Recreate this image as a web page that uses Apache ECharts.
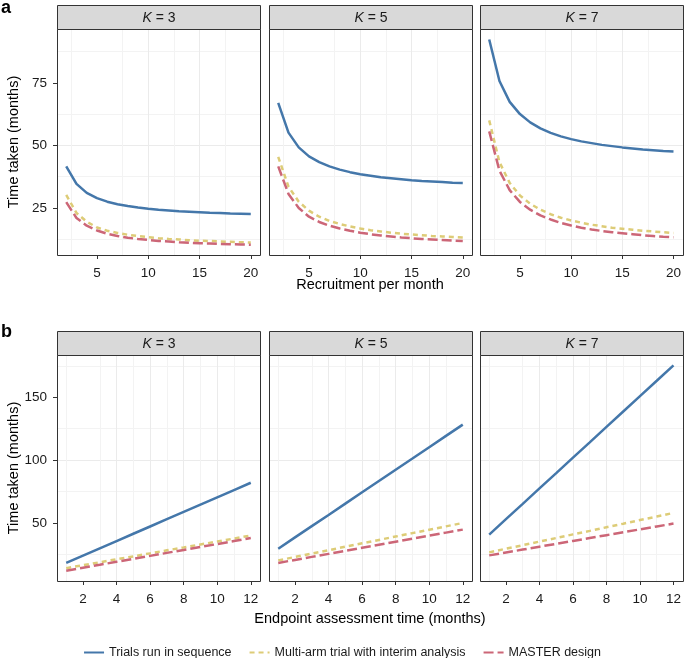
<!DOCTYPE html>
<html><head><meta charset="utf-8">
<script src="https://cdn.jsdelivr.net/npm/echarts@6/dist/echarts.min.js"></script>
<style>html,body{margin:0;padding:0;background:#fff}#c{width:684px;height:658px}</style>
</head><body><div id="c"></div><script>
// ---------- data ----------
const panelK = ['3', '5', '7'];
const seriesNames = ['Trials run in sequence', 'Multi-arm trial with interim analysis', 'MASTER design'];
const seriesColors = ['#4477AA', '#DDCC77', '#CC6677'];

// panel a: x = recruitment per month
const recruitPerMonth = [2,3,4,5,6,7,8,9,10,11,12,13,14,15,16,17,18,19,20];
const aSeqK3    = [41.6,34.6,31.0,28.9,27.5,26.5,25.8,25.2,24.7,24.3,24.0,23.7,23.5,23.3,23.1,23.0,22.8,22.7,22.6];
const aMultiK3  = [30.2,23.0,19.5,17.2,15.9,15.0,14.3,13.8,13.3,12.9,12.6,12.4,12.1,11.9,11.8,11.6,11.5,11.3,11.2];
const aMasterK3 = [27.3,21.0,17.9,16.0,14.7,13.8,13.1,12.6,12.2,11.8,11.6,11.3,11.1,10.9,10.8,10.6,10.5,10.4,10.3];
const aSeqK5    = [67.0,55.1,49.2,45.6,43.3,41.6,40.3,39.3,38.5,37.9,37.3,36.9,36.5,36.1,35.8,35.6,35.4,35.1,35.0];
const aMultiK5  = [45.4,33.5,27.5,23.9,21.5,19.8,18.6,17.6,16.8,16.1,15.6,15.1,14.7,14.4,14.1,13.8,13.6,13.4,13.2];
const aMasterK5 = [41.6,30.6,25.0,21.5,19.4,17.9,16.8,15.9,15.1,14.5,14.0,13.6,13.2,12.9,12.6,12.4,12.2,12.0,11.8];
const aSeqK7    = [92.3,75.7,67.4,62.5,59.2,56.8,55.0,53.6,52.5,51.6,50.9,50.2,49.7,49.2,48.8,48.4,48.1,47.8,47.6];
const aMultiK7  = [60.0,43.3,35.0,30.0,26.7,24.3,22.5,21.1,20.0,19.1,18.3,17.7,17.1,16.7,16.3,15.9,15.6,15.3,15.0];
const aMasterK7 = [55.6,39.9,32.1,27.4,24.3,22.0,20.4,19.0,18.0,17.1,16.4,15.8,15.3,14.9,14.5,14.1,13.8,13.5,13.3];

// panel b: x = endpoint assessment time (months)
const endpointMonths = [1,2,3,4,5,6,7,8,9,10,11,12];
const bSeqK3    = [18.2,24.0,29.8,35.6,41.4,47.2,53.0,58.8,64.6,70.4,76.2,82.0];
const bMultiK3  = [14.0,16.4,18.7,21.1,23.4,25.8,28.2,30.5,32.9,35.2,37.6,40.0];
const bMasterK3 = [12.0,14.4,16.7,19.1,21.4,23.8,26.2,28.5,30.9,33.2,35.6,38.0];
const bSeqK5    = [29.5,38.5,47.5,56.4,65.4,74.4,83.4,92.4,101.3,110.3,119.3,128.3];
const bMultiK5  = [20.2,22.9,25.6,28.3,31.1,33.8,36.5,39.2,41.9,44.6,47.3,50.0];
const bMasterK5 = [18.2,20.6,23.0,25.4,27.8,30.3,32.7,35.1,37.5,39.9,42.3,44.7];
const bSeqK7    = [40.7,53.0,65.2,77.5,89.7,102.0,114.2,126.5,138.7,151.0,163.2,175.5];
const bMultiK7  = [26.6,29.5,32.3,35.2,38.0,40.9,43.7,46.6,49.4,52.3,55.1,58.0];
const bMasterK7 = [24.2,26.5,28.8,31.1,33.4,35.7,38.0,40.3,42.6,44.9,47.2,49.5];

const aXTicks = [5, 10, 15, 20];
const aYTicks = [25, 50, 75];
const bXTicks = [2, 4, 6, 8, 10, 12];
const bYTicks = [50, 100, 150];

// ---------- layout ----------
const FONT = 'Liberation Sans, Arial, Helvetica, sans-serif';
const lefts = [57, 269, 480];
const W = 203, H = 226;
const rowTop = [29, 355];
const stripTop = [5, 331];
const STRIP_H = 24;

const rows = [
  { x: recruitPerMonth, sets: [[aSeqK3,aMultiK3,aMasterK3],[aSeqK5,aMultiK5,aMasterK5],[aSeqK7,aMultiK7,aMasterK7]],
    xmin: 1.1, xmax: 20.9, xint: 5, xticks: aXTicks, ymin: 6.2, ymax: 96.5, yint: 25, yticks: aYTicks },
  { x: endpointMonths, sets: [[bSeqK3,bMultiK3,bMasterK3],[bSeqK5,bMultiK5,bMasterK5],[bSeqK7,bMultiK7,bMasterK7]],
    xmin: 0.45, xmax: 12.55, xint: 2, xticks: bXTicks, ymin: 3.8, ymax: 183.7, yint: 50, yticks: bYTicks }
];

const grids = [], xAxes = [], yAxes = [], series = [], graphics = [];
const dashTypes = ['solid', [5, 4], [10, 4]];

rows.forEach((row, r) => {
  for (let p = 0; p < 3; p++) {
    const gi = r * 3 + p;
    grids.push({ left: lefts[p], top: rowTop[r], width: W, height: H, show: false });
    xAxes.push({
      type: 'value', gridIndex: gi, min: row.xmin, max: row.xmax,
      minInterval: row.xint, maxInterval: row.xint,
      axisLine: { show: false },
      axisTick: { show: true, length: 4, customValues: row.xticks, lineStyle: { color: '#333', width: 1 } },
      axisLabel: { show: true, customValues: row.xticks, margin: 11, fontSize: 13.5, color: '#1a1a1a', fontFamily: FONT },
      splitLine: { show: true, showMinLine: false, showMaxLine: false, lineStyle: { color: '#EBEBEB', width: 1 } },
      minorTick: { show: false, splitNumber: 2 },
      minorSplitLine: { show: true, lineStyle: { color: '#F3F3F3', width: 1 } }
    });
    yAxes.push({
      type: 'value', gridIndex: gi, min: row.ymin, max: row.ymax,
      minInterval: row.yint, maxInterval: row.yint,
      axisLine: { show: false },
      axisTick: { show: p === 0, length: 4, customValues: row.yticks, lineStyle: { color: '#333', width: 1 } },
      axisLabel: { show: p === 0, customValues: row.yticks, margin: 10, fontSize: 13.5, color: '#1a1a1a', fontFamily: FONT },
      splitLine: { show: true, showMinLine: false, showMaxLine: false, lineStyle: { color: '#EBEBEB', width: 1 } },
      minorTick: { show: false, splitNumber: 2 },
      minorSplitLine: { show: true, lineStyle: { color: '#F3F3F3', width: 1 } }
    });
    row.sets[p].forEach((vals, s) => {
      series.push({
        type: 'line', name: seriesNames[s], xAxisIndex: gi, yAxisIndex: gi,
        data: row.x.map((xv, i) => [xv, vals[i]]),
        symbol: 'none', showSymbol: false, smooth: false, silent: true,
        lineStyle: { color: seriesColors[s], width: 2.5, type: dashTypes[s], cap: 'butt' },
        itemStyle: { color: seriesColors[s] },
        z: 2 + s
      });
    });
    // panel border
    graphics.push({ type: 'rect', z: 100, shape: { x: lefts[p] + 0.5, y: rowTop[r] + 0.5, width: W, height: H },
      style: { fill: 'none', stroke: '#333', lineWidth: 1 } });
    // strip
    graphics.push({ type: 'rect', z: 100, shape: { x: lefts[p] + 0.5, y: stripTop[r] + 0.5, width: W, height: STRIP_H },
      style: { fill: '#D9D9D9', stroke: '#333', lineWidth: 1 } });
    graphics.push({ type: 'text', z: 101, x: lefts[p] + W / 2 + 0.5, y: stripTop[r] + STRIP_H / 2 + 1,
      style: { text: '{k|K} = ' + panelK[p], rich: { k: { fontStyle: 'italic', fontSize: 14, fontFamily: FONT, fill: '#1a1a1a' } },
        fontSize: 14, fontFamily: FONT, fill: '#1a1a1a', align: 'center', verticalAlign: 'middle' } });
  }
});

// titles
graphics.push({ type: 'text', x: 1, y: 8, style: { text: 'a', font: 'bold 18px ' + FONT, fill: '#000', verticalAlign: 'middle' } });
graphics.push({ type: 'text', x: 1, y: 332, style: { text: 'b', font: 'bold 18px ' + FONT, fill: '#000', verticalAlign: 'middle' } });
graphics.push({ type: 'text', x: 370, y: 285, style: { text: 'Recruitment per month', fontSize: 14.5, fontFamily: FONT, fill: '#000', align: 'center', verticalAlign: 'middle' } });
graphics.push({ type: 'text', x: 370, y: 619, style: { text: 'Endpoint assessment time (months)', fontSize: 14.5, fontFamily: FONT, fill: '#000', align: 'center', verticalAlign: 'middle' } });
graphics.push({ type: 'text', x: 14, y: 142, rotation: Math.PI / 2, style: { text: 'Time taken (months)', fontSize: 14.5, fontFamily: FONT, fill: '#000', align: 'center', verticalAlign: 'middle' } });
graphics.push({ type: 'text', x: 14, y: 468, rotation: Math.PI / 2, style: { text: 'Time taken (months)', fontSize: 14.5, fontFamily: FONT, fill: '#000', align: 'center', verticalAlign: 'middle' } });

const chart = echarts.init(document.getElementById('c'), null, { renderer: 'canvas' });
chart.setOption({
  animation: false,
  backgroundColor: '#fff',
  grid: grids, xAxis: xAxes, yAxis: yAxes, series: series,
  legend: {
    data: seriesNames, left: 'center', top: 641, itemWidth: 20, itemHeight: 14, itemGap: 17,
    selectedMode: false,
    itemStyle: { color: 'transparent', borderWidth: 0, opacity: 0 },
    textStyle: { fontSize: 12.5, fontFamily: FONT, color: '#1a1a1a' }
  },
  graphic: graphics
});
</script></body></html>
